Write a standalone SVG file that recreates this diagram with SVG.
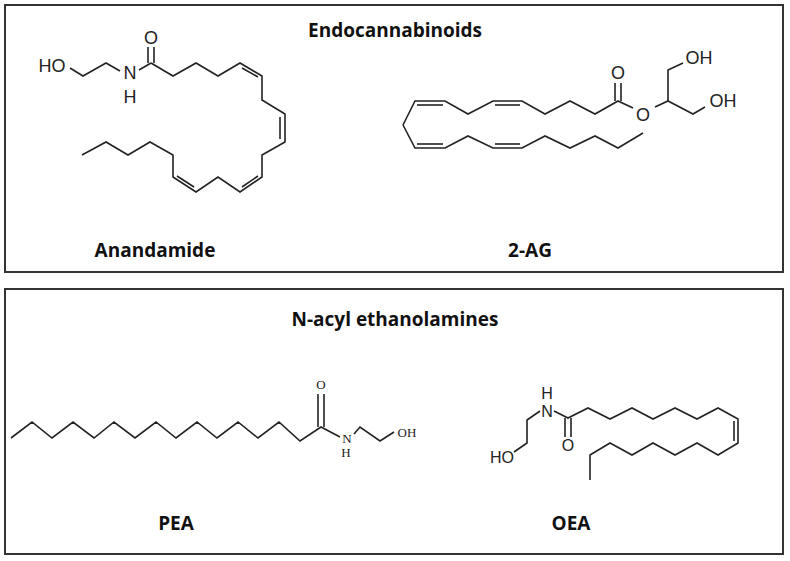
<svg xmlns="http://www.w3.org/2000/svg" width="790" height="561" viewBox="0 0 790 561">
<style>
.b{fill:none;stroke:#222;stroke-width:1.6;stroke-linejoin:miter}
.s{font-family:"Liberation Sans",Arial,sans-serif;font-size:18px;fill:#222;text-anchor:middle}
.o{font-family:"Liberation Sans",Arial,sans-serif;font-size:16px;fill:#222;text-anchor:middle}
.t{font-family:"Liberation Serif","Times New Roman",serif;font-size:13px;fill:#222;text-anchor:middle}
.l{font-family:"Open Sans","Liberation Sans",sans-serif;font-weight:bold;font-size:19px;fill:#111;text-anchor:middle}
.box{fill:none;stroke:#333;stroke-width:2}
</style>
<rect width="790" height="561" fill="#fff"/>
<rect class="box" x="5" y="5" width="778" height="267"/>
<rect class="box" x="5" y="289" width="778" height="265"/>
<text class="l" x="395" y="37">Endocannabinoids</text>
<text class="l" x="395" y="326">N-acyl ethanolamines</text>
<g id="anandamide">
<text class="s" x="52" y="72">HO</text>
<text class="s" x="130" y="79">N</text>
<text class="s" x="130" y="103">H</text>
<text class="s" x="151" y="44">O</text>
<polyline class="b" points="70,68 83,76 106,63 120,71"/>
<line class="b" x1="139" y1="70" x2="151" y2="63"/>
<line class="b" x1="148" y1="63" x2="148" y2="47"/><line class="b" x1="154" y1="63" x2="154" y2="47"/>
<polyline class="b" points="151,63 173,76 196,63 218,76 240,63 262,76 262,100 285,114 285,142 262,155 262,177 240,192 218,177 196,192 173,177 173,155 150,142 128,155 106,142 82,155"/>
<line class="b" x1="242" y1="68" x2="258" y2="77"/>
<line class="b" x1="280" y1="117" x2="280" y2="139"/>
<line class="b" x1="258" y1="176" x2="242" y2="187"/>
<line class="b" x1="194" y1="187" x2="177" y2="176"/>
<text class="l" x="155" y="257">Anandamide</text>
</g>
<g id="twoAG">
<polyline class="b" points="403,125 415,101 445,101 468,114 493,101 522,101 545,114 570,101 595,114 618,101 633,108"/>
<polyline class="b" points="403,125 415,148 445,148 468,136 493,148 522,148 545,136 570,148 595,136 618,148 643,133"/>
<line class="b" x1="417" y1="105" x2="443" y2="105"/>
<line class="b" x1="495" y1="105" x2="520" y2="105"/>
<line class="b" x1="417" y1="144" x2="443" y2="144"/>
<line class="b" x1="495" y1="144" x2="520" y2="144"/>
<line class="b" x1="615" y1="101" x2="615" y2="83"/><line class="b" x1="621" y1="101" x2="621" y2="83"/>
<text class="s" x="618" y="79">O</text>
<text class="s" x="643" y="121">O</text>
<polyline class="b" points="655,107 668,101 693,114 705,107"/>
<polyline class="b" points="668,101 668,70 683,63"/>
<text class="s" x="723" y="107">OH</text>
<text class="s" x="699" y="64">OH</text>
<text class="l" x="530" y="257">2-AG</text>
</g>
<g id="pea">
<polyline class="b" points="11,438 32,422 52,438 73,422 94,438 114,422 135,438 156,422 176,438 197,422 217,438 238,422 258,438 279,422 300,441 321,427 340,437"/>
<line class="b" x1="318" y1="427" x2="318" y2="394"/><line class="b" x1="324" y1="427" x2="324" y2="394"/>
<text class="t" x="321" y="389">O</text>
<text class="t" x="347" y="443">N</text>
<text class="t" x="346" y="457">H</text>
<polyline class="b" points="354,434 360,427 380,441 394,432"/>
<text class="t" x="407" y="437">OH</text>
<text class="l" x="176" y="530">PEA</text>
</g>
<g id="oea">
<text class="o" x="547" y="399">H</text>
<text class="o" x="547" y="417">N</text>
<text class="o" x="502" y="463">HO</text>
<text class="o" x="568" y="451">O</text>
<polyline class="b" points="540,411 527,420 527,443 514,452"/>
<polyline class="b" points="554,411 568,418 588,408 610,419 632,408 653,419 675,408 697,419 718,408 738,419 738,443 718,455 697,443 675,455 653,443 632,455 610,443 590,455 590,480"/>
<line class="b" x1="565" y1="418" x2="565" y2="437"/><line class="b" x1="571" y1="418" x2="571" y2="437"/>
<line class="b" x1="734" y1="421" x2="734" y2="441"/>
<text class="l" x="571" y="530">OEA</text>
</g>
</svg>
